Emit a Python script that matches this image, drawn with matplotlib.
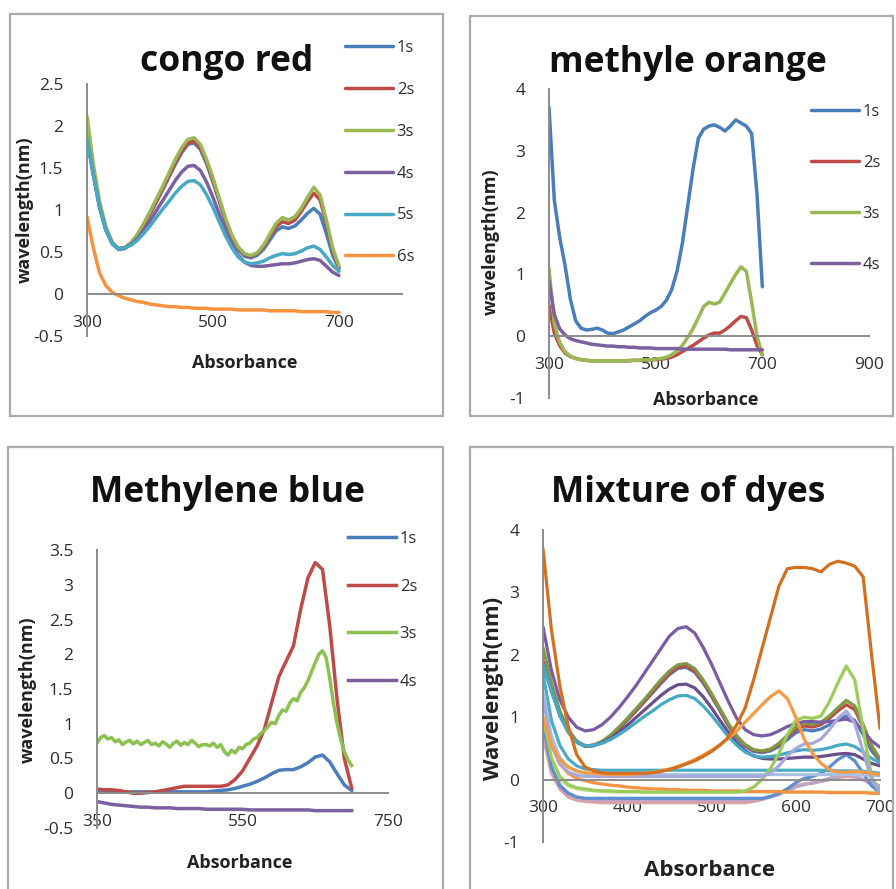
import matplotlib
matplotlib.use('Agg')
import matplotlib.pyplot as plt
from matplotlib.patches import Rectangle

plt.rcParams['font.family'] = ['Open Sans', 'DejaVu Sans']

W, H = 896, 889

# line colours (office palette)
BLUE = '#4A7EBB'
RED = '#BE4B48'
GREEN = '#98B954'
PURPLE = '#7D60A0'
AQUA = '#46AAC5'
ORANGE = '#F69240'

# ---- congo red (300-700 nm, 10 nm steps) ----
cr_x = list(range(300, 701, 10))
cr_1s = [1.88, 1.44, 1.04, 0.77, 0.6, 0.53, 0.54, 0.6, 0.69, 0.81,
         0.95, 1.09, 1.24, 1.39, 1.54, 1.68, 1.78, 1.8, 1.72, 1.55,
         1.33, 1.1, 0.86, 0.67, 0.53, 0.45, 0.43, 0.46, 0.53, 0.64,
         0.75, 0.8, 0.78, 0.81, 0.88, 0.96, 1.02, 0.95, 0.72, 0.46, 0.3]
cr_2s = [1.9, 1.45, 1.05, 0.78, 0.61, 0.54, 0.55, 0.61, 0.7, 0.82,
         0.96, 1.1, 1.25, 1.4, 1.56, 1.7, 1.8, 1.82, 1.74, 1.57,
         1.35, 1.12, 0.88, 0.69, 0.55, 0.47, 0.45, 0.48, 0.56, 0.68,
         0.8, 0.86, 0.84, 0.88, 0.98, 1.1, 1.2, 1.12, 0.84, 0.52, 0.32]
cr_3s = [2.12, 1.55, 1.1, 0.8, 0.62, 0.54, 0.55, 0.61, 0.71, 0.84,
         0.98, 1.13, 1.28, 1.44, 1.6, 1.74, 1.84, 1.86, 1.78, 1.6,
         1.38, 1.14, 0.9, 0.7, 0.56, 0.48, 0.46, 0.49, 0.58, 0.71,
         0.84, 0.91, 0.88, 0.92, 1.02, 1.15, 1.27, 1.18, 0.88, 0.55, 0.33]
cr_4s = [1.85, 1.42, 1.03, 0.76, 0.6, 0.54, 0.55, 0.59, 0.66, 0.76,
         0.87, 0.99, 1.11, 1.23, 1.35, 1.45, 1.52, 1.53, 1.47, 1.33,
         1.15, 0.95, 0.76, 0.59, 0.46, 0.38, 0.34, 0.33, 0.33, 0.34,
         0.35, 0.36, 0.36, 0.37, 0.39, 0.41, 0.42, 0.4, 0.33, 0.26, 0.22]
cr_5s = [1.85, 1.42, 1.03, 0.76, 0.6, 0.54, 0.55, 0.58, 0.64, 0.72,
         0.81, 0.91, 1.01, 1.1, 1.2, 1.28, 1.34, 1.35, 1.3, 1.18,
         1.03, 0.86, 0.69, 0.55, 0.44, 0.38, 0.36, 0.37, 0.39, 0.43,
         0.46, 0.48, 0.47, 0.48, 0.51, 0.55, 0.57, 0.53, 0.44, 0.34, 0.27]
cr_6s = [0.92, 0.55, 0.25, 0.1, 0.02, -0.02, -0.05, -0.07, -0.09, -0.1,
         -0.12, -0.13, -0.14, -0.15, -0.15, -0.16, -0.16, -0.17, -0.17, -0.17,
         -0.18, -0.18, -0.18, -0.18, -0.19, -0.19, -0.19, -0.19, -0.19, -0.2,
         -0.2, -0.2, -0.2, -0.2, -0.21, -0.21, -0.21, -0.21, -0.21, -0.22, -0.22]

# ---- methyl orange (300-700 nm) ----
mo_x = list(range(300, 701, 10))
mo_1s = [3.7, 2.2, 1.6, 1.15, 0.6, 0.25, 0.13, 0.1, 0.11, 0.13,
         0.1, 0.05, 0.04, 0.07, 0.1, 0.15, 0.2, 0.25, 0.32, 0.38,
         0.42, 0.48, 0.58, 0.75, 1.05, 1.5, 2.1, 2.7, 3.2, 3.35,
         3.4, 3.42, 3.38, 3.32, 3.4, 3.5, 3.45, 3.4, 3.28, 2.3, 0.8]
mo_2s = [0.5, 0.05, -0.15, -0.27, -0.33, -0.36, -0.38, -0.39, -0.4, -0.4,
         -0.4, -0.4, -0.4, -0.4, -0.4, -0.4, -0.39, -0.39, -0.39, -0.38,
         -0.38, -0.37, -0.36, -0.34, -0.3, -0.25, -0.2, -0.15, -0.09, -0.03,
         0.02, 0.05, 0.05, 0.1, 0.17, 0.25, 0.32, 0.3, 0.1, -0.15, -0.3]
mo_3s = [1.1, 0.2, -0.1, -0.25, -0.32, -0.36, -0.38, -0.39, -0.4, -0.4,
         -0.4, -0.4, -0.4, -0.4, -0.4, -0.39, -0.39, -0.39, -0.38, -0.38,
         -0.37, -0.36, -0.34, -0.3, -0.24, -0.15, -0.02, 0.12, 0.3, 0.48,
         0.55, 0.52, 0.55, 0.7, 0.85, 1.0, 1.12, 1.05, 0.55, 0.0, -0.3]
mo_4s = [0.9, 0.35, 0.12, 0.02, -0.04, -0.07, -0.09, -0.11, -0.13, -0.14,
         -0.15, -0.16, -0.16, -0.17, -0.17, -0.18, -0.18, -0.19, -0.19, -0.19,
         -0.2, -0.2, -0.2, -0.2, -0.2, -0.21, -0.21, -0.21, -0.21, -0.21,
         -0.21, -0.21, -0.21, -0.21, -0.22, -0.22, -0.22, -0.22, -0.22, -0.22, -0.22]

# ---- methylene blue (350-700 nm) ----
mb_x = list(range(350, 701, 10))
mb_x_fine = list(range(350, 701, 5))
mb_1s = [0.02, 0.02, 0.02, 0.02, 0.02, 0.02, 0.02, 0.02, 0.02, 0.02,
         0.02, 0.02, 0.02, 0.02, 0.02, 0.02, 0.03, 0.04, 0.05, 0.07,
         0.1, 0.13, 0.17, 0.22, 0.28, 0.33, 0.34, 0.34, 0.38, 0.44,
         0.52, 0.55, 0.45, 0.28, 0.12, 0.04]
mb_2s = [0.06, 0.05, 0.05, 0.04, 0.02, 0.0, 0.0, 0.01, 0.02, 0.04,
         0.06, 0.08, 0.1, 0.1, 0.1, 0.1, 0.1, 0.1, 0.12, 0.2,
         0.32, 0.5, 0.68, 0.92, 1.3, 1.68, 1.9, 2.12, 2.65, 3.1,
         3.32, 3.22, 2.4, 1.35, 0.5, 0.08]
mb_3s = [0.72, 0.8, 0.83, 0.78, 0.8, 0.74, 0.77, 0.7, 0.74, 0.76,
         0.71, 0.75, 0.7, 0.73, 0.76, 0.7, 0.72, 0.68, 0.74, 0.71,
         0.66, 0.72, 0.75, 0.69, 0.73, 0.7, 0.76, 0.72, 0.67, 0.7,
         0.7, 0.68, 0.72, 0.66, 0.7, 0.6, 0.55, 0.62, 0.58, 0.66,
         0.64, 0.7, 0.72, 0.78, 0.8, 0.86, 0.9, 0.96, 1.02, 1.0,
         1.12, 1.2, 1.18, 1.3, 1.36, 1.33, 1.45, 1.52, 1.62, 1.75,
         1.88, 2.0, 2.05, 1.95, 1.65, 1.3, 1.0, 0.78, 0.6, 0.48, 0.4]
mb_4s = [-0.12, -0.14, -0.16, -0.17, -0.18, -0.19, -0.2, -0.2, -0.21, -0.21,
         -0.21, -0.22, -0.22, -0.22, -0.22, -0.23, -0.23, -0.23, -0.23, -0.23,
         -0.23, -0.24, -0.24, -0.24, -0.24, -0.24, -0.24, -0.24, -0.24, -0.24,
         -0.25, -0.25, -0.25, -0.25, -0.25, -0.25]

# ---- mixture of dyes (300-700 nm) ----
mix_x = list(range(300, 701, 10))
mix_purple = [2.45, 1.75, 1.28, 1.0, 0.84, 0.78, 0.8, 0.88, 1.0, 1.15,
              1.32, 1.5, 1.7, 1.9, 2.1, 2.3, 2.42, 2.45, 2.35, 2.12,
              1.85, 1.55, 1.25, 0.98, 0.8, 0.72, 0.7, 0.72, 0.78, 0.85,
              0.9, 0.93, 0.93, 0.92, 0.93, 0.95, 0.97, 0.92, 0.78, 0.62, 0.52]
mix_orange_dark = [3.7, 2.4, 1.5, 0.85, 0.4, 0.2, 0.14, 0.11, 0.1, 0.1,
                   0.1, 0.1, 0.1, 0.11, 0.13, 0.16, 0.2, 0.25, 0.3, 0.37,
                   0.45, 0.55, 0.68, 0.88, 1.15, 1.6, 2.1, 2.6, 3.1, 3.38,
                   3.4, 3.4, 3.38, 3.33, 3.45, 3.5, 3.47, 3.42, 3.25, 2.0, 0.82]
mix_orange_light = [1.0, 0.55, 0.32, 0.2, 0.14, 0.11, 0.1, 0.09, 0.08, 0.08,
                    0.08, 0.09, 0.1, 0.12, 0.14, 0.17, 0.21, 0.26, 0.32, 0.39,
                    0.47, 0.56, 0.66, 0.78, 0.92, 1.06, 1.2, 1.33, 1.42, 1.3,
                    1.0, 0.65, 0.42, 0.26, 0.16, 0.12, 0.12, 0.13, 0.12, 0.1, 0.08]
mix_green_light = [1.0, 0.35, 0.05, -0.08, -0.13, -0.15, -0.17, -0.18, -0.18, -0.19,
                   -0.19, -0.19, -0.2, -0.2, -0.2, -0.2, -0.2, -0.2, -0.2, -0.2,
                   -0.2, -0.2, -0.2, -0.2, -0.18, -0.12, 0.0, 0.18, 0.42, 0.72,
                   0.95, 1.0, 0.98, 1.02, 1.25, 1.55, 1.82, 1.6, 0.8, 0.05, -0.2]
mix_lavender = [1.3, 0.55, 0.25, 0.12, 0.07, 0.05, 0.05, 0.05, 0.05, 0.05,
                0.05, 0.05, 0.05, 0.05, 0.05, 0.05, 0.05, 0.05, 0.05, 0.05,
                0.05, 0.05, 0.05, 0.05, 0.05, 0.05, 0.05, 0.1, 0.22, 0.38,
                0.5, 0.57, 0.58, 0.65, 0.8, 0.98, 1.1, 0.9, 0.45, 0.0, -0.2]
mix_blue_small = [0.9, 0.2, -0.1, -0.22, -0.28, -0.3, -0.3, -0.3, -0.3, -0.3,
                  -0.3, -0.3, -0.3, -0.3, -0.3, -0.3, -0.3, -0.3, -0.3, -0.3,
                  -0.3, -0.3, -0.3, -0.3, -0.3, -0.3, -0.3, -0.27, -0.22, -0.15,
                  -0.05, 0.02, 0.05, 0.1, 0.2, 0.32, 0.4, 0.3, 0.1, -0.1, -0.2]
mix_aqua_flat = [1.7, 0.95, 0.55, 0.33, 0.22, 0.17, 0.16, 0.15, 0.15, 0.15,
                 0.15, 0.15, 0.15, 0.15, 0.15, 0.15, 0.15, 0.15, 0.15, 0.15,
                 0.15, 0.15, 0.15, 0.15, 0.15, 0.15, 0.15, 0.15, 0.15, 0.15,
                 0.15, 0.15, 0.15, 0.15, 0.14, 0.14, 0.14, 0.14, 0.13, 0.12, 0.1]
mix_lightblue_flat = [1.4, 0.7, 0.35, 0.2, 0.13, 0.1, 0.09, 0.08, 0.08, 0.08,
                      0.08, 0.08, 0.08, 0.08, 0.08, 0.08, 0.08, 0.08, 0.08, 0.08,
                      0.08, 0.08, 0.08, 0.08, 0.08, 0.08, 0.08, 0.08, 0.08, 0.08,
                      0.08, 0.08, 0.08, 0.08, 0.08, 0.08, 0.08, 0.08, 0.07, 0.07, 0.06]
mix_pink = [0.7, 0.1, -0.15, -0.28, -0.33, -0.35, -0.36, -0.37, -0.37, -0.37,
            -0.37, -0.37, -0.37, -0.37, -0.37, -0.37, -0.37, -0.37, -0.37, -0.37,
            -0.37, -0.37, -0.37, -0.37, -0.37, -0.35, -0.32, -0.28, -0.22, -0.15,
            -0.1, -0.07, -0.06, -0.03, 0.0, 0.03, 0.05, 0.04, 0.0, -0.08, -0.12]
mix_mauve = [0.8, 0.2, -0.08, -0.22, -0.28, -0.31, -0.32, -0.33, -0.33, -0.33,
             -0.33, -0.33, -0.33, -0.33, -0.33, -0.33, -0.33, -0.33, -0.33, -0.33,
             -0.33, -0.33, -0.33, -0.33, -0.33, -0.33, -0.31, -0.28, -0.24, -0.18,
             -0.12, -0.08, -0.05, -0.02, 0.02, 0.06, 0.1, 0.06, 0.0, -0.05, -0.1]
mix_green_pale = [0.9, 0.3, 0.0, -0.1, -0.15, -0.17, -0.18, -0.19, -0.2, -0.2,
                  -0.2, -0.2, -0.2, -0.2, -0.2, -0.2, -0.2, -0.2, -0.2, -0.2,
                  -0.2, -0.2, -0.2, -0.2, -0.2, -0.2, -0.2, -0.2, -0.2, -0.2,
                  -0.2, -0.2, -0.2, -0.2, -0.2, -0.2, -0.2, -0.2, -0.2, -0.2, -0.2]

time_labels = ['1s', '2s', '3s', '4s', '5s', '6s']


def fx(x):
    return x / W


def fy(y):
    return 1 - y / H


fig = plt.figure(figsize=(W / 100, H / 100), dpi=100)
fig.patch.set_facecolor('white')

# grey frames around each chart
for l, t, r, b in [(10, 14, 443, 416), (470, 16, 893, 416),
                   (8, 447, 443, 895), (470, 447, 893, 895)]:
    fig.add_artist(Rectangle((fx(l), fy(b)), (r - l) / W, (b - t) / H,
                             transform=fig.transFigure, fill=False,
                             ec='#ABABAB', lw=1.6))


def make_axes(l, t, r, b, xlim, ylim, xticks, yticks, tick_size=12.5):
    ax = fig.add_axes([fx(l), fy(b), (r - l) / W, (b - t) / H])
    ax.set_xlim(*xlim)
    ax.set_ylim(*ylim)
    ax.patch.set_alpha(0)
    for s in ['top', 'right']:
        ax.spines[s].set_visible(False)
    ax.spines['bottom'].set_position(('data', 0))
    for s in ['left', 'bottom']:
        ax.spines[s].set_color('#8C8C8C')
        ax.spines[s].set_linewidth(1.4)
    ax.set_xticks(xticks)
    ax.set_yticks(yticks)
    ax.set_yticklabels([f'{v:g}' for v in yticks])
    ax.tick_params(length=0, labelsize=tick_size, labelcolor='#2E2E2E')
    ax.tick_params(axis='x', pad=15)
    ax.tick_params(axis='y', pad=17)
    return ax


def add_legend(ax, x, y, spacing):
    ax.legend(loc='upper left', bbox_to_anchor=(fx(x), fy(y)),
              bbox_transform=fig.transFigure, frameon=False, fontsize=12,
              handlelength=2.9, handletextpad=0.2, borderpad=0,
              borderaxespad=0, labelspacing=spacing, labelcolor='#2E2E2E')


def texts(title, tpos, xl, xpos, yl, ypos, size=13, tsize=25.5):
    fig.text(fx(tpos[0]), fy(tpos[1]), title, ha='center', va='center',
             fontsize=tsize, fontweight='bold', color='#111111')
    fig.text(fx(xpos[0]), fy(xpos[1]), xl, ha='center', va='center',
             fontsize=size, fontweight='bold', color='#222222')
    fig.text(fx(ypos[0]), fy(ypos[1]), yl, ha='center', va='center',
             rotation=90, fontsize=size, fontweight='bold', color='#222222')


LW = 2.5

# congo red
ax1 = make_axes(87, 84, 402, 336, (300, 800), (-0.5, 2.5),
                [300, 500, 700], [-0.5, 0, 0.5, 1, 1.5, 2, 2.5])
for ys, c, lab in zip([cr_1s, cr_2s, cr_3s, cr_4s, cr_5s, cr_6s],
                      [BLUE, RED, GREEN, PURPLE, AQUA, ORANGE], time_labels):
    ax1.plot(cr_x, ys, color=c, lw=LW, label=lab, solid_capstyle='round')
add_legend(ax1, 345, 40, 1.55)
texts('congo red', (227, 62), 'Absorbance', (245, 363),
      'wavelength(nm)', (25, 210))

# methyl orange
ax2 = make_axes(549, 89, 869, 398, (300, 900), (-1, 4),
                [300, 500, 700, 900], [-1, 0, 1, 2, 3, 4])
for ys, c, lab in zip([mo_1s, mo_2s, mo_3s, mo_4s],
                      [BLUE, RED, GREEN, PURPLE], time_labels):
    ax2.plot(mo_x, ys, color=c, lw=LW, label=lab, solid_capstyle='round')
add_legend(ax2, 811, 104, 2.1)
texts('methyle orange', (688, 63), 'Absorbance', (706, 400),
      'wavelength(nm)', (491, 242))

# methylene blue
ax3 = make_axes(97, 550, 388, 828, (350, 750), (-0.5, 3.5),
                [350, 550, 750], [-0.5, 0, 0.5, 1, 1.5, 2, 2.5, 3, 3.5])
ax3.plot(mb_x, mb_1s, color=BLUE, lw=LW, label='1s')
ax3.plot(mb_x, mb_2s, color=RED, lw=LW, label='2s')
ax3.plot(mb_x_fine, mb_3s, color='#8CC152', lw=LW, label='3s')
ax3.plot(mb_x, mb_4s, color=PURPLE, lw=LW, label='4s')
add_legend(ax3, 348, 531, 1.9)
texts('Methylene blue', (227, 493), 'Absorbance', (240, 863),
      'wavelength(nm)', (28, 690))

# mixture of dyes
ax4 = make_axes(543, 530, 880, 842, (300, 700), (-1, 4),
                [300, 400, 500, 600, 700], [-1, 0, 1, 2, 3, 4])
mix_series = [
    (mix_pink, '#D9A0A6'), (mix_mauve, '#BFA3C4'), (mix_green_pale, '#C7DCA0'),
    (mix_blue_small, '#5C8FD0'), (mix_lightblue_flat, '#A9C1E2'),
    (mix_aqua_flat, '#4BACC6'), (cr_6s, ORANGE),
    (cr_1s, BLUE), (cr_2s, RED), (cr_3s, '#7F9A45'), (cr_4s, '#6A4F8C'),
    (cr_5s, AQUA), (mix_purple, '#7B5CA3'),
    (mix_green_light, '#9ACD5A'), (mix_lavender, '#A7A9DA'),
    (mix_orange_light, '#F79A45'), (mix_orange_dark, '#D2701F'),
]
for ys, c in mix_series:
    ax4.plot(mix_x, ys, color=c, lw=2.3, solid_capstyle='round')
texts('Mixture of dyes', (688, 493), 'Absorbance', (710, 870),
      'Wavelength(nm)', (493, 688), size=16)

plt.savefig('out.png', dpi=100, facecolor='white')
